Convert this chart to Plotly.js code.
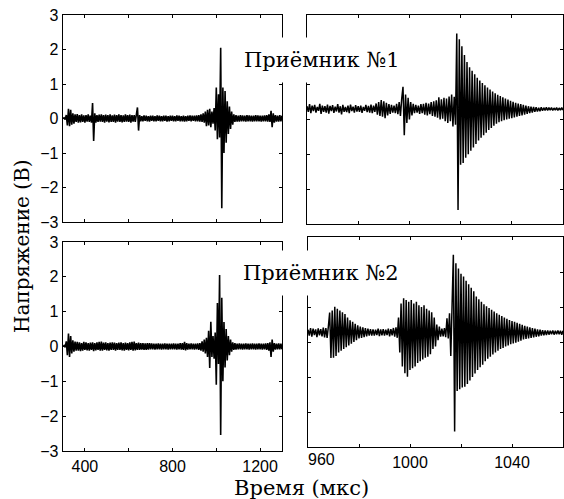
<!DOCTYPE html>
<html>
<head>
<meta charset="utf-8">
<script src="https://cdn.plot.ly/plotly-3.0.1.min.js"></script>
<style>html,body{margin:0;padding:0;background:#fff;}#chart{width:564px;height:499px;}</style>
</head>
<body>
<div id="chart"></div>
<script>
// ---- DATA ----
// Full record (left panels): start time and sample step, µs
const fullStart = 300;
const fullStep = 5;
// Zoomed record (right panels): start time and sample step, µs
const zoomStart = 960;
const zoomStep = 0.5;

const receiver1Full = [
  0, 0.02, -0.03, 0.1, -0.2, 0.28, -0.22, 0.25, -0.18, 0.15,
  -0.15, 0.12, -0.1, 0.13, -0.12, 0.1, -0.11, 0.12, -0.1, 0.09,
  -0.12, 0.1, -0.09, 0.12, -0.1, 0.08, -0.12, 0.45, -0.65, 0.15,
  -0.12, 0.1, -0.1, 0.11, -0.09, 0.12, -0.1, 0.1, -0.12, 0.11,
  -0.09, 0.1, -0.11, 0.12, -0.1, 0.09, -0.1, 0.11, -0.12, 0.1,
  -0.09, 0.12, -0.1, 0.1, -0.11, 0.09, -0.1, 0.12, -0.09, 0.1,
  -0.1, 0.11, -0.12, 0.1, -0.09, 0.1, -0.1, 0.12, 0.32, -0.35,
  0.1, -0.08, 0.07, -0.08, 0.09, -0.07, 0.08, -0.08, 0.07, -0.09,
  0.08, -0.07, 0.08, -0.08, 0.07, -0.08, 0.09, -0.07, 0.08, -0.08,
  0.07, -0.08, 0.08, -0.07, 0.08, -0.09, 0.07, -0.08, 0.08, -0.07,
  0.08, -0.08, 0.07, -0.08, 0.09, -0.07, 0.08, -0.08, 0.07, -0.08,
  0.08, -0.09, 0.07, -0.08, 0.08, -0.07, 0.09, -0.08, 0.08, -0.07,
  0.08, -0.08, 0.09, -0.08, 0.1, -0.09, 0.12, -0.1, 0.15, -0.12,
  0.2, -0.22, 0.25, -0.2, 0.28, -0.25, 0.2, -0.15, 0.3, -0.35,
  0.9, -0.6, 0.7, -0.55, 2.05, -2.6, 0.9, -1.0, 0.8, -0.7,
  0.5, -0.45, 0.35, -0.3, 0.2, -0.18, 0.12, -0.1, 0.1, -0.09,
  0.08, -0.09, 0.1, -0.08, 0.09, -0.08, 0.08, -0.09, 0.1, -0.08,
  0.09, -0.08, 0.08, -0.09, 0.08, -0.08, 0.1, -0.08, 0.09, -0.08,
  0.08, -0.09, 0.08, -0.08, 0.09, -0.08, 0.1, -0.09, 0.12, -0.1,
  0.22, -0.25, 0.15, -0.12, 0.1, -0.09, 0.08, -0.09, 0.1, -0.08, 0.08
];

const receiver2Full = [
  0, 0.03, -0.02, 0.15, -0.25, 0.37, -0.3, 0.3, -0.2, 0.18,
  -0.15, 0.14, -0.12, 0.13, -0.12, 0.12, -0.13, 0.1, -0.12, 0.13,
  -0.1, 0.12, -0.11, 0.1, -0.12, 0.11, -0.1, 0.12, -0.13, 0.1,
  -0.11, 0.12, -0.1, 0.13, -0.12, 0.14, -0.12, 0.11, -0.1, 0.12,
  -0.11, 0.1, -0.12, 0.11, -0.1, 0.12, -0.1, 0.11, -0.12, 0.1,
  -0.1, 0.11, -0.1, 0.12, -0.11, 0.1, -0.12, 0.11, -0.1, 0.1,
  -0.11, 0.12, -0.1, 0.13, -0.12, 0.14, -0.11, 0.1, -0.1, 0.11,
  -0.1, 0.1, -0.09, 0.1, -0.1, 0.09, -0.1, 0.1, -0.09, 0.1,
  -0.08, 0.09, -0.08, 0.08, -0.09, 0.08, -0.08, 0.09, -0.08, 0.08,
  -0.09, 0.08, -0.08, 0.09, -0.08, 0.08, -0.09, 0.08, -0.08, 0.08,
  -0.08, 0.09, -0.08, 0.08, -0.09, 0.08, -0.08, 0.1, -0.09, 0.1,
  -0.1, 0.13, -0.11, 0.1, -0.09, 0.08, -0.08, 0.09, -0.08, 0.08,
  -0.09, 0.08, -0.08, 0.09, -0.1, 0.1, -0.12, 0.15, -0.15, 0.2,
  -0.2, 0.25, -0.3, 0.45, -0.62, 0.71, -0.3, 0.3, -0.35, 0.4,
  -1.1, 1.25, -0.5, 2.05, -2.54, 1.4, -1.0, 0.7, -0.6, 0.5,
  -0.4, 0.3, -0.25, 0.2, -0.15, 0.12, -0.1, 0.1, -0.09, 0.08,
  -0.08, 0.09, -0.08, 0.08, -0.09, 0.08, -0.08, 0.09, -0.08, 0.08,
  -0.09, 0.08, -0.08, 0.09, -0.08, 0.08, -0.09, 0.08, -0.08, 0.09,
  -0.08, 0.08, -0.09, 0.08, -0.08, 0.09, -0.1, 0.1, -0.12, 0.12,
  -0.3, 0.2, -0.15, 0.1, -0.09, 0.08, -0.08, 0.09, -0.08, 0.08, -0.08
];

const receiver1Zoom = [
  0.38, 0.22, 0.44, 0.18, 0.4, 0.24, 0.42, 0.2, 0.36, 0.25,
  0.45, 0.16, 0.4, 0.22, 0.38, 0.2, 0.43, 0.17, 0.39, 0.24,
  0.41, 0.19, 0.37, 0.23, 0.44, 0.2, 0.38, 0.15, 0.42, 0.22,
  0.36, 0.21, 0.4, 0.18, 0.43, 0.24, 0.37, 0.2, 0.41, 0.23,
  0.38, 0.22, 0.4, 0.19, 0.36, 0.25, 0.42, 0.21, 0.39, 0.2,
  0.43, 0.18, 0.4, 0.22, 0.46, 0.14, 0.5, 0.1, 0.56, 0.08,
  0.52, 0.04, 0.48, 0.12, 0.44, 0.16, 0.42, 0.2, 0.4, 0.18,
  0.45, 0.15, 0.5, 0.1, 0.6, 0.94, -0.45, 0.72, -0.1, 0.62,
  0.0, 0.5, 0.12, 0.45, 0.18, 0.42, 0.2, 0.4, 0.16, 0.44,
  0.18, 0.45, 0.14, 0.48, 0.12, 0.46, 0.15, 0.5, 0.1, 0.52,
  0.08, 0.55, 0.05, 0.64, 0.0, 0.58, 0.02, 0.62, -0.05, 0.6,
  -0.1, 0.66, -0.05, 0.72, -0.2, 0.65, -0.15, 2.47, -2.6, 2.3,
  -1.3, 2.1, -1.25, 1.85, -1.1, 1.65, -1.0, 1.5, -0.9, 1.4,
  -0.8, 1.3, -0.7, 1.2, -0.6, 1.12, -0.52, 1.05, -0.45, 0.98,
  -0.38, 0.92, -0.3, 0.86, -0.24, 0.8, -0.18, 0.75, -0.12, 0.71,
  -0.08, 0.67, -0.05, 0.64, -0.02, 0.6, 0.0, 0.57, 0.02, 0.54,
  0.04, 0.51, 0.06, 0.48, 0.08, 0.46, 0.1, 0.44, 0.12, 0.42,
  0.14, 0.4, 0.16, 0.38, 0.18, 0.37, 0.2, 0.36, 0.22, 0.35,
  0.23, 0.34, 0.24, 0.35, 0.25, 0.34, 0.26, 0.35, 0.26, 0.34,
  0.27, 0.34, 0.26, 0.33, 0.27, 0.34, 0.26, 0.33, 0.27, 0.34, 0.27
];

const receiver2Zoom = [
  0.35, 0.18, 0.4, 0.15, 0.38, 0.2, 0.36, 0.14, 0.39, 0.19,
  0.37, 0.16, 0.41, 0.13, 0.4, 0.12, 0.45, 0.84, -0.46, 0.9,
  -0.45, 1.01, -0.4, 0.95, -0.3, 0.9, -0.25, 0.85, -0.2, 0.8,
  -0.15, 0.7, -0.1, 0.62, -0.05, 0.58, 0.0, 0.52, 0.05, 0.48,
  0.1, 0.44, 0.12, 0.42, 0.14, 0.4, 0.16, 0.38, 0.18, 0.37,
  0.18, 0.36, 0.18, 0.35, 0.2, 0.38, 0.17, 0.36, 0.19, 0.37,
  0.18, 0.35, 0.2, 0.38, 0.16, 0.37, 0.19, 0.4, 0.15, 0.42,
  0.12, 0.7, -0.3, 1.1, -0.7, 1.25, -0.89, 1.2, -0.99, 1.15,
  -0.8, 1.2, -0.75, 1.1, -0.7, 1.15, -0.6, 1.05, -0.55, 1.0,
  -0.5, 1.05, -0.45, 0.95, -0.42, 0.9, -0.35, 0.85, -0.2, 0.7,
  -0.13, 0.5, 0.05, 0.44, 0.15, 0.38, 0.16, 0.4, 0.14, 0.68,
  0.1, 0.82, -0.4, 0.8, 2.49, -2.56, 2.25, -1.4, 2.1, -1.35,
  1.95, -1.3, 1.87, -1.28, 1.75, -1.2, 1.65, -1.1, 1.55, -1.0,
  1.45, -0.9, 1.3, -0.8, 1.22, -0.72, 1.15, -0.65, 1.08, -0.55,
  1.02, -0.48, 0.97, -0.42, 0.92, -0.36, 0.87, -0.3, 0.82, -0.25,
  0.78, -0.2, 0.74, -0.17, 0.7, -0.13, 0.66, -0.1, 0.63, -0.06,
  0.6, -0.04, 0.58, -0.02, 0.55, 0.01, 0.52, 0.04, 0.49, 0.07,
  0.46, 0.09, 0.44, 0.1, 0.42, 0.12, 0.4, 0.13, 0.38, 0.15,
  0.36, 0.16, 0.35, 0.18, 0.34, 0.19, 0.33, 0.2, 0.33, 0.21,
  0.32, 0.22, 0.33, 0.21, 0.32, 0.22, 0.33, 0.22, 0.32, 0.21, 0.32
];

const yTicks = [-3, -2, -1, 0, 1, 2, 3];
const fullTicks = [400, 600, 800, 1000, 1200];
const fullTickText = ['400', '', '800', '', '1200'];
const zoomTicks = [980, 1000, 1020, 1040];
const zoomTickText = ['', '1000', '', '1040'];
const zoomFirstLabel = '960';
const receiverLabels = ['Приёмник №1', 'Приёмник №2'];
const yTitle = 'Напряжение (В)';
const xTitle = 'Время (мкс)';

// ---- CHART ----
const W = 564, H = 499;
const px = v => v / W;
const py = v => 1 - v / H;

function wave(x0, dx, y, xa, ya, w) {
  return {type: 'scatter', mode: 'lines', x0: x0, dx: dx, y: y,
    xaxis: xa, yaxis: ya, line: {color: '#000', width: w}, hoverinfo: 'skip'};
}

const data = [
  wave(fullStart, fullStep, receiver2Full, 'x', 'y', 1.6),
  wave(zoomStart, zoomStep, receiver2Zoom, 'x2', 'y2', 1.5),
  wave(fullStart, fullStep, receiver1Full, 'x3', 'y3', 1.6),
  wave(zoomStart, zoomStep, receiver1Zoom, 'x4', 'y4', 1.5)
];

const tickFont = {family: 'Liberation Sans', size: 16, color: '#000'};
const serifFamily = 'DejaVu Serif';

function ax(extra) {
  return Object.assign({
    showline: true, linecolor: '#000', linewidth: 1.3, mirror: 'ticks',
    ticks: 'inside', ticklen: 3, tickwidth: 1, tickcolor: '#000',
    showgrid: false, zeroline: false, fixedrange: true, tickfont: tickFont
  }, extra);
}

const layout = {
  width: W, height: H,
  margin: {l: 0, r: 0, t: 0, b: 0},
  paper_bgcolor: '#fff', plot_bgcolor: '#fff',
  showlegend: false,
  xaxis: ax({domain: [px(63), px(282)], range: [300, 1300], anchor: 'y',
    tickmode: 'array', tickvals: fullTicks, ticktext: fullTickText}),
  yaxis: ax({domain: [py(451), py(242)], range: [-3, 3], anchor: 'x',
    tickmode: 'array', tickvals: yTicks}),
  xaxis2: ax({domain: [px(308), px(563)], range: [960, 1060], anchor: 'y2',
    tickmode: 'array', tickvals: zoomTicks, ticktext: zoomTickText}),
  yaxis2: ax({domain: [py(447), py(237)], range: [-3, 3], anchor: 'x2',
    tickmode: 'array', tickvals: yTicks, showticklabels: false}),
  xaxis3: ax({domain: [px(63), px(282)], range: [300, 1300], anchor: 'y3',
    tickmode: 'array', tickvals: fullTicks, showticklabels: false}),
  yaxis3: ax({domain: [py(222), py(15)], range: [-3, 3], anchor: 'x3',
    tickmode: 'array', tickvals: yTicks}),
  xaxis4: ax({domain: [px(307), px(563)], range: [960, 1060], anchor: 'y4',
    tickmode: 'array', tickvals: zoomTicks, showticklabels: false}),
  yaxis4: ax({domain: [py(224), py(15)], range: [-3, 3], anchor: 'x4',
    tickmode: 'array', tickvals: yTicks, showticklabels: false}),
  annotations: [
    {text: receiverLabels[0], xref: 'paper', yref: 'paper', x: px(322), y: py(60),
      xanchor: 'center', yanchor: 'middle', showarrow: false,
      font: {family: serifFamily, size: 21, color: '#000'}, bgcolor: '#fff', borderpad: 10},
    {text: receiverLabels[1], xref: 'paper', yref: 'paper', x: px(321), y: py(273),
      xanchor: 'center', yanchor: 'middle', showarrow: false,
      font: {family: serifFamily, size: 21, color: '#000'}, bgcolor: '#fff', borderpad: 10},
    {text: yTitle, xref: 'paper', yref: 'paper', x: px(22), y: py(246),
      xanchor: 'center', yanchor: 'middle', textangle: -90, showarrow: false,
      font: {family: serifFamily, size: 20, color: '#000'}},
    {text: xTitle, xref: 'paper', yref: 'paper', x: px(301), y: py(488),
      xanchor: 'center', yanchor: 'middle', showarrow: false,
      font: {family: serifFamily, size: 21, color: '#000'}},
    {text: zoomFirstLabel, xref: 'paper', yref: 'paper', x: px(321), y: py(459),
      xanchor: 'center', yanchor: 'middle', showarrow: false, font: tickFont}
  ]
};

Plotly.newPlot('chart', data, layout, {staticPlot: true, displayModeBar: false});
</script>
</body>
</html>
